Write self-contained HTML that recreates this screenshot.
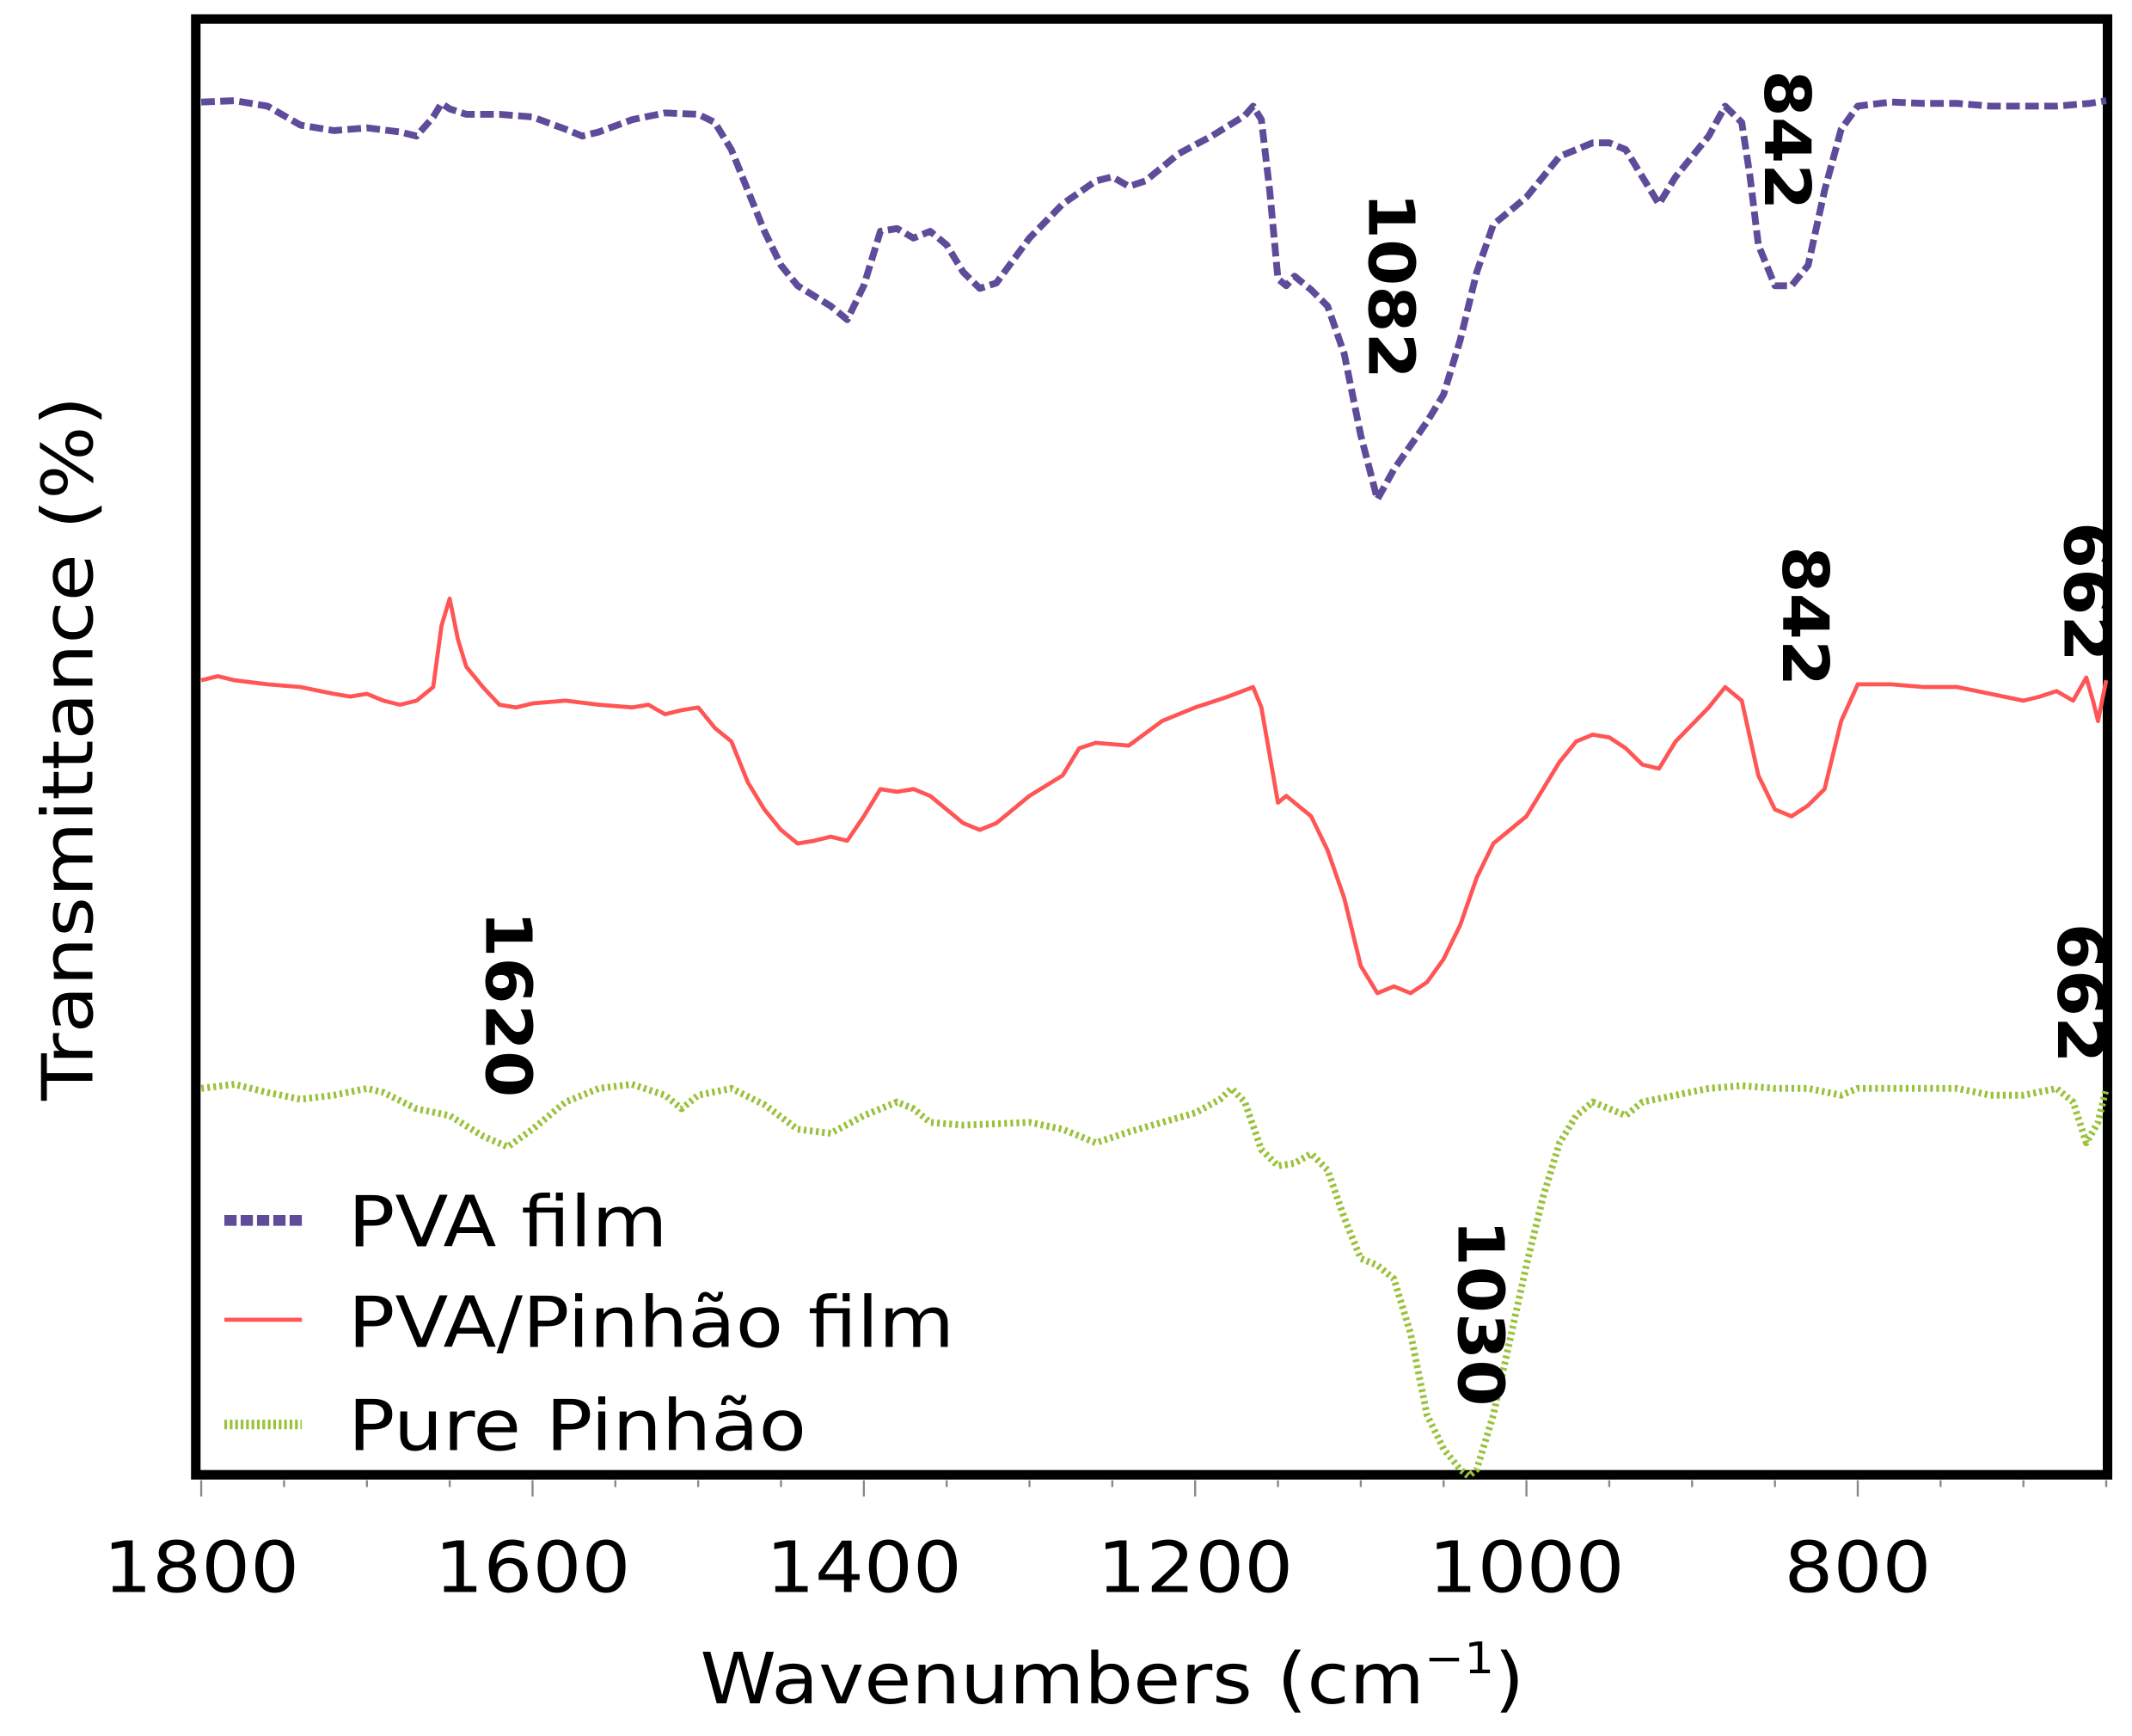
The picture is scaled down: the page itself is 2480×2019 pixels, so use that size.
<!DOCTYPE html>
<html><head><meta charset="utf-8"><style>
html,body{margin:0;padding:0;background:#fff}
svg{display:block}
text{font-family:"DejaVu Sans","Liberation Sans",sans-serif;fill:#000}
</style></head><body>
<svg id="chart" width="2480" height="2019" viewBox="0 0 1568 1276" preserveAspectRatio="none" xmlns="http://www.w3.org/2000/svg">
<rect x="144" y="14" width="1406" height="1070" fill="none" stroke="#000" stroke-width="7"/>
<g id="ticks"></g>
<g id="series"></g>
<g id="annotations"></g>
<text transform="translate(818,1252) scale(1.09,1)" x="0" y="0" font-size="52" text-anchor="middle">Wavenumbers (cm<tspan font-size="32" dy="-22">−1</tspan><tspan dy="22">)</tspan></text>
<text transform="translate(68,550) rotate(-90) scale(1.09,1)" font-size="52" text-anchor="middle">Transmittance (%)</text>
<g>
<line x1="165" y1="897" x2="222" y2="897" stroke="#5e4c9a" stroke-width="8" stroke-dasharray="9,3"/>
<text transform="translate(256,916) scale(1.1,1)" font-size="52">PVA film</text>
<line x1="165" y1="970" x2="222" y2="970" stroke="#ff5555" stroke-width="3"/>
<text transform="translate(256,990) scale(1.1,1)" font-size="52">PVA/Pinhão film</text>
<line x1="165" y1="1047" x2="222" y2="1047" stroke="#99c23a" stroke-width="7" stroke-dasharray="2,2"/>
<text transform="translate(256,1066) scale(1.1,1)" font-size="52">Pure Pinhão</text>
</g>
</svg>
<script>
const xTicks = [1800,1600,1400,1200,1000,800];
const pvaW = [1800,1780,1760,1740,1720,1700,1680,1670,1660,1655,1650,1640,1620,1600,1580,1570,1560,1540,1520,1500,1490,1480,1470,1460,1450,1440,1420,1410,1400,1390,1380,1370,1360,1350,1340,1330,1320,1300,1280,1260,1250,1240,1230,1210,1190,1170,1165,1160,1155,1150,1145,1140,1130,1120,1110,1100,1090,1080,1060,1050,1040,1030,1020,1000,990,980,960,950,940,930,920,910,890,880,870,865,860,850,840,830,820,810,800,780,760,740,720,700,680,660,650];
const pvaT = [75,74,78,92,96,94,97,100,86,76,80,84,84,86,95,100,97,88,83,84,90,110,140,170,195,210,225,235,210,170,168,175,170,180,200,212,208,175,150,133,130,137,133,113,100,85,78,88,140,205,210,203,213,225,260,320,367,345,310,290,250,200,165,145,130,115,105,105,110,130,150,130,100,78,90,130,180,210,210,195,140,95,78,75,76,76,78,78,78,76,74];
const mixW = [1800,1790,1780,1760,1740,1720,1710,1700,1690,1680,1670,1660,1655,1650,1645,1640,1630,1620,1610,1600,1580,1560,1540,1530,1520,1510,1500,1490,1480,1470,1460,1450,1440,1430,1420,1410,1400,1390,1380,1370,1360,1340,1330,1320,1300,1280,1270,1260,1240,1220,1200,1180,1165,1160,1150,1145,1140,1130,1120,1110,1100,1090,1080,1070,1060,1050,1040,1030,1020,1000,990,980,970,960,950,940,930,920,910,890,880,870,860,850,840,830,820,810,800,780,760,740,720,700,690,680,670,662,658,655,650];
const mixT = [500,497,500,503,505,510,512,510,515,518,515,505,460,440,470,490,505,518,520,517,515,518,520,518,525,522,520,535,545,575,595,610,620,618,615,618,600,580,582,580,585,605,610,605,585,570,550,546,548,530,520,512,505,520,590,585,590,600,625,660,710,730,725,730,722,705,680,645,620,600,580,560,545,540,542,550,562,565,545,520,505,515,570,595,600,592,580,530,503,503,505,505,510,515,512,508,515,498,515,530,500];
const purW = [1800,1780,1760,1740,1720,1700,1690,1670,1650,1630,1615,1600,1580,1560,1540,1520,1510,1500,1480,1460,1440,1420,1400,1380,1370,1360,1340,1320,1300,1280,1260,1240,1220,1200,1185,1178,1170,1160,1150,1140,1130,1120,1110,1100,1090,1080,1070,1060,1050,1040,1035,1030,1020,1010,1000,990,980,970,960,950,940,930,910,890,870,850,830,810,800,780,760,740,720,700,680,670,662,655,650];
const purT = [800,797,803,808,805,800,803,815,820,835,843,830,810,800,797,805,815,805,800,812,830,833,820,810,815,825,827,826,825,830,840,832,825,818,808,800,810,845,857,855,848,860,895,925,930,940,980,1040,1065,1080,1085,1080,1040,985,930,880,840,820,810,815,820,810,805,800,798,800,800,805,800,800,800,800,805,805,800,810,840,825,800];
const annLabels = ["842","1082","842","662","1620","1030","662"];
const annW = [843,1082,832,662,1615,1028,666];
const annY = [103,210,453,435,738,965,730];

function xs(w){return 148+(1800-w)*1.2183;}
const NS="http://www.w3.org/2000/svg";
const tg=document.getElementById('ticks');
for(let w=1800; w>=650; w-=50){
  const major = w%200===0;
  const l=document.createElementNS(NS,'line');
  
  
  l.setAttribute('x1',xs(w));l.setAttribute('x2',xs(w));
  l.setAttribute('y1',1088);l.setAttribute('y2',major?1100:1093);
  l.setAttribute('stroke','#888');l.setAttribute('stroke-width','1.5');
  tg.appendChild(l);
}
xTicks.forEach(w=>{
  const t=document.createElementNS(NS,'text');
  
  
  t.setAttribute('transform','translate('+xs(w)+',1170) scale(1.09,1)');
  t.setAttribute('font-size','52');t.setAttribute('text-anchor','middle');
  t.textContent=w;tg.appendChild(t);
});
const sg=document.getElementById('series');
function draw(W,T,name,color,width,dash){
  const p=document.createElementNS(NS,'path');
  
  
  p.setAttribute('d',W.map((w,i)=>(i?'L':'M')+xs(w).toFixed(1)+','+T[i]).join(''));
  p.setAttribute('fill','none');p.setAttribute('stroke',color);
  p.setAttribute('stroke-width',width);p.setAttribute('stroke-linejoin','round');
  if(dash)p.setAttribute('stroke-dasharray',dash);
  sg.appendChild(p);
}
draw(pvaW,pvaT,'pva-film-line','#5e4c9a',5,'10,4');
draw(mixW,mixT,'pva-pinhao-film-line','#ff5555',3,null);
draw(purW,purT,'pure-pinhao-line','#99c23a',5,'2,2.5');
const ag=document.getElementById('annotations');
annLabels.forEach((s,i)=>{
  const t=document.createElementNS(NS,'text');
  
  
  t.setAttribute('transform','translate('+(xs(annW[i])-16)+','+annY[i]+') rotate(90) scale(1.05,1)');
  t.setAttribute('font-size','47');t.setAttribute('font-weight','bold');
  t.setAttribute('text-anchor','middle');
  t.textContent=s;ag.appendChild(t);
});
</script>
</body></html>
